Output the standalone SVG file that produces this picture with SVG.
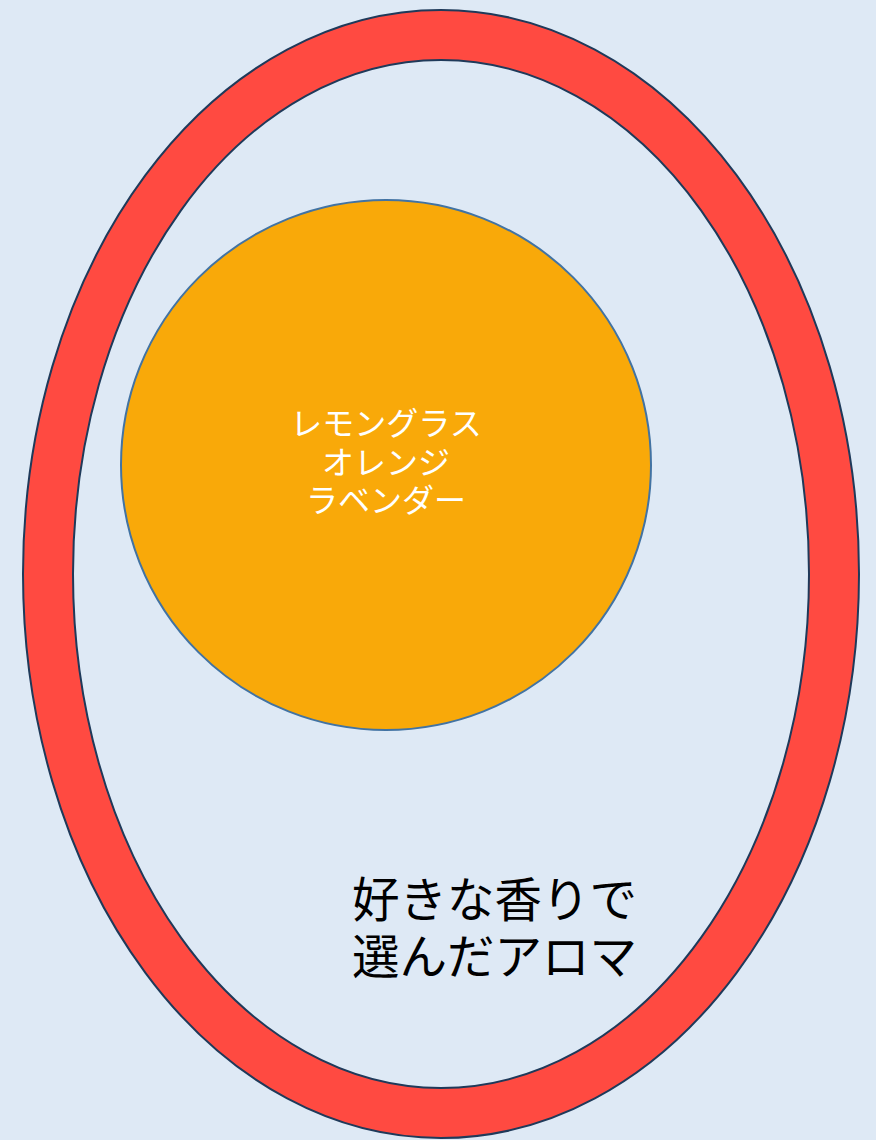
<svg xmlns="http://www.w3.org/2000/svg" width="876" height="1140" viewBox="0 0 876 1140">
<style>
.ring{fill:#FF4A41;stroke:#1F3A5A;stroke-width:2;fill-rule:evenodd}
.core{fill:#F9A909;stroke:#4273A3;stroke-width:2}
.t{font-family:"Noto Sans CJK JP","Noto Sans",sans-serif}
.w{fill:#FFFFFF;font-size:32px;text-anchor:middle}
.b{fill:#000000;font-size:47.5px}
</style>
<rect x="0" y="0" width="876" height="1140" fill="#DEE9F5"/>
<g id="outer">
<path class="ring" d="M23,574 A418,564 0 1 0 859,574 A418,564 0 1 0 23,574 Z M73,574 A368,514 0 1 0 809,574 A368,514 0 1 0 73,574 Z"/>
<text class="t b"><tspan x="352" y="917">好きな香りで</tspan><tspan x="352" y="974">選んだアロマ</tspan></text>
</g>
<g id="inner">
<circle class="core" cx="386" cy="465" r="265"/>
<text class="t w"><tspan x="386" y="435">レモングラス</tspan><tspan x="386" y="474">オレンジ</tspan><tspan x="386" y="512">ラベンダー</tspan></text>
</g>
<g id="connectors"/>
</svg>
